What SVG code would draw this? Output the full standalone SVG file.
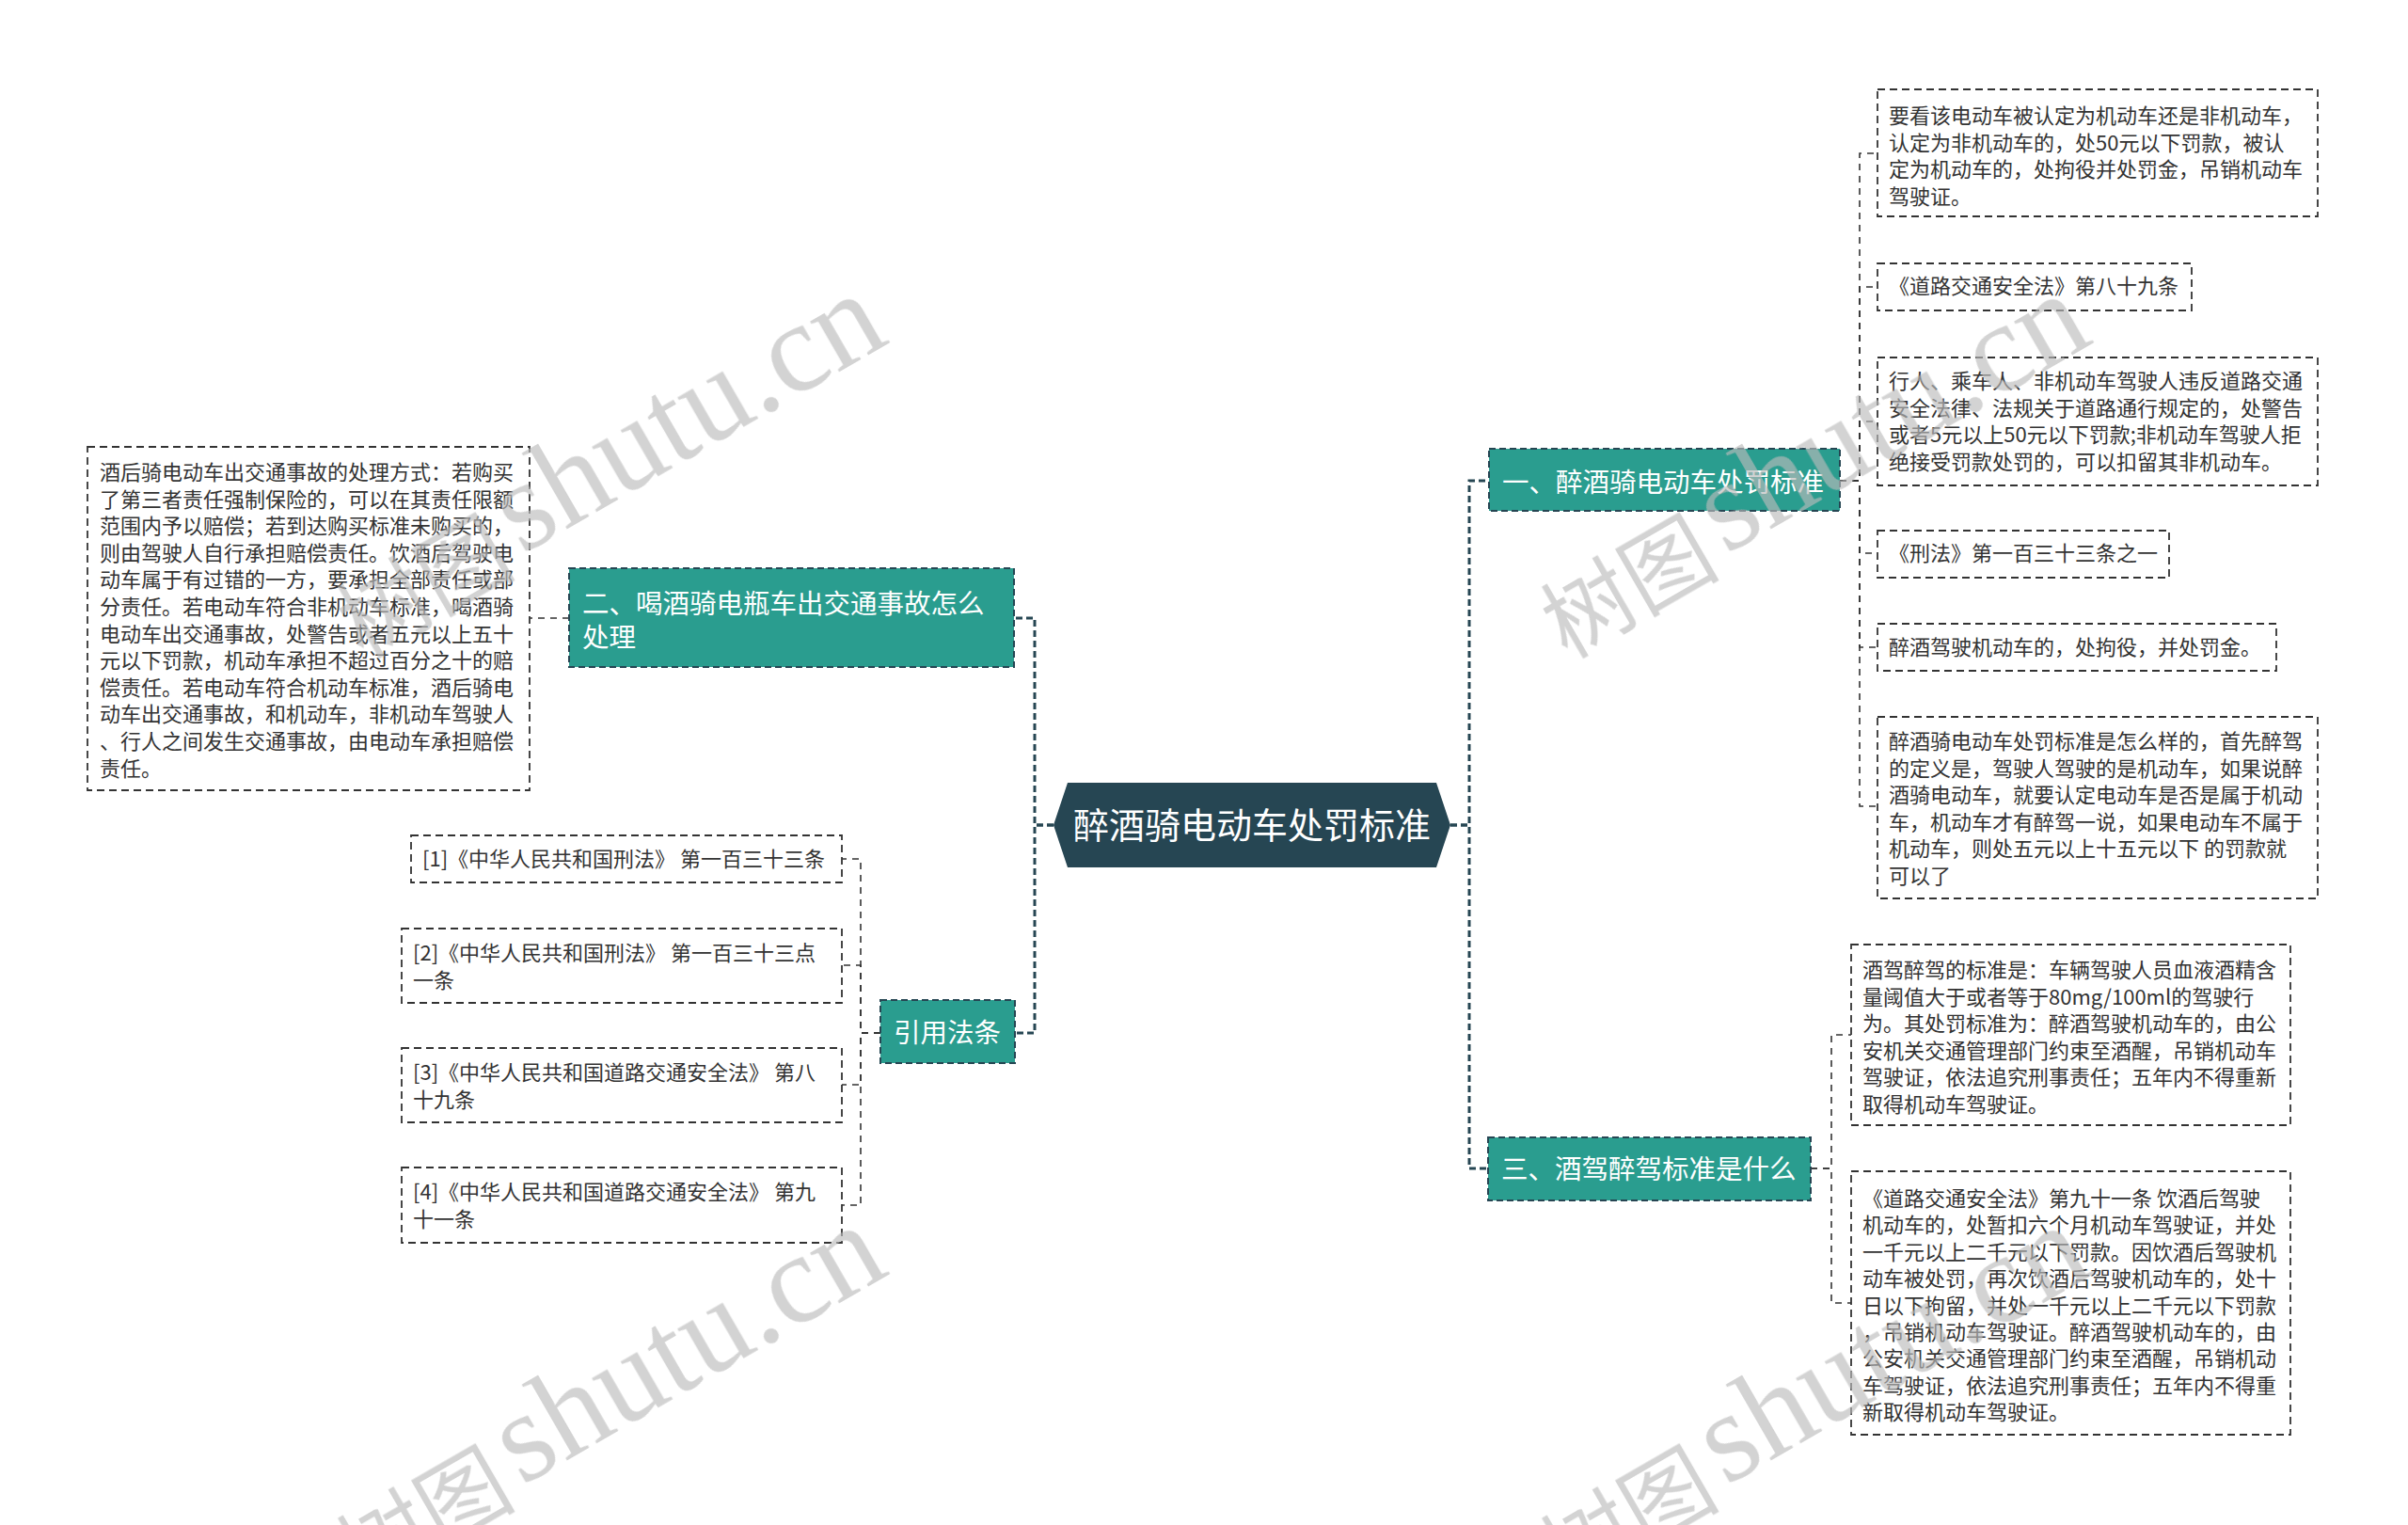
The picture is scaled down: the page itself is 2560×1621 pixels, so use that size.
<svg xmlns="http://www.w3.org/2000/svg" width="2560" height="1621" viewBox="0 0 2560 1621">
<style>
.cjk{font-family:"Noto Sans CJK SC","Noto Sans",sans-serif}
.bt{font-family:"Noto Sans CJK SC","Noto Sans",sans-serif;font-size:28.5px;fill:#ffffff}
.ct{font-family:"Noto Sans CJK SC","Noto Sans",sans-serif;font-size:22px;fill:#333333}
.branch{fill:#2a9d8f;stroke:#264653;stroke-width:2;stroke-dasharray:7 4}
.leaf{fill:#ffffff;stroke:#333333;stroke-width:1.8;stroke-dasharray:8 5}
.trunk{fill:none;stroke:#264653;stroke-width:3;stroke-dasharray:7 4}
.twig{fill:none;stroke:#333333;stroke-width:1.6;stroke-dasharray:7 6}
.wm{fill:#bbbbbb;opacity:0.65}
</style>
<rect x="0" y="0" width="2560" height="1621" fill="#ffffff"/>

<g id="connectors">
  <path class="trunk" d="M1120 877 H1100 V657 H1079"/>
  <path class="trunk" d="M1120 877 H1100 V1098 H1079"/>
  <path class="trunk" d="M1542 877 H1562 V511 H1583"/>
  <path class="trunk" d="M1542 877 H1562 V1242 H1582"/>
  <path class="twig" d="M605 657 H563"/>
  <path class="twig" d="M936 1098 H915 V913 H895"/>
  <path class="twig" d="M936 1098 H915 V1026 H895"/>
  <path class="twig" d="M936 1098 H915 V1153 H895"/>
  <path class="twig" d="M936 1098 H915 V1281 H895"/>
  <path class="twig" d="M1956 511 H1977 V163 H1996"/>
  <path class="twig" d="M1956 511 H1977 V305 H1996"/>
  <path class="twig" d="M1956 511 H1977 V448 H1996"/>
  <path class="twig" d="M1956 511 H1977 V588 H1996"/>
  <path class="twig" d="M1956 511 H1977 V688 H1996"/>
  <path class="twig" d="M1956 511 H1977 V857 H1996"/>
  <path class="twig" d="M1925 1242 H1947 V1100 H1968"/>
  <path class="twig" d="M1925 1242 H1947 V1385 H1968"/>
</g>

<g id="root">
  <polygon points="1120,877 1135,832 1527,832 1542,877 1527,922 1135,922" fill="#264653"/>
  <text class="cjk" x="1331" y="891" font-size="38" fill="#ffffff" text-anchor="middle">醉酒骑电动车处罚标准</text>
</g>

<g id="branch2">
  <rect class="branch" x="605" y="604" width="473" height="105"/>
  <text class="bt" x="619" y="652">二、喝酒骑电瓶车出交通事故怎么</text>
  <text class="bt" x="619" y="688">处理</text>
</g>
<g id="branch2-text">
  <rect class="leaf" x="93" y="475" width="470" height="365"/>
  <text class="ct" x="106" y="510">酒后骑电动车出交通事故的处理方式：若购买</text>
  <text class="ct" x="106" y="538.6">了第三者责任强制保险的，可以在其责任限额</text>
  <text class="ct" x="106" y="567.2">范围内予以赔偿；若到达购买标准未购买的，</text>
  <text class="ct" x="106" y="595.8">则由驾驶人自行承担赔偿责任。饮酒后驾驶电</text>
  <text class="ct" x="106" y="624.4">动车属于有过错的一方，要承担全部责任或部</text>
  <text class="ct" x="106" y="653">分责任。若电动车符合非机动车标准，喝酒骑</text>
  <text class="ct" x="106" y="681.6">电动车出交通事故，处警告或者五元以上五十</text>
  <text class="ct" x="106" y="710.2">元以下罚款，机动车承担不超过百分之十的赔</text>
  <text class="ct" x="106" y="738.8">偿责任。若电动车符合机动车标准，酒后骑电</text>
  <text class="ct" x="106" y="767.4">动车出交通事故，和机动车，非机动车驾驶人</text>
  <text class="ct" x="106" y="796">、行人之间发生交通事故，由电动车承担赔偿</text>
  <text class="ct" x="106" y="824.6">责任。</text>
</g>

<g id="refs">
  <rect class="branch" x="936" y="1063" width="143" height="67"/>
  <text class="bt" x="950" y="1108">引用法条</text>
</g>
<g id="ref1">
  <rect class="leaf" x="437" y="888" width="458" height="50"/>
  <text class="ct" x="449" y="921">[1]《中华人民共和国刑法》 第一百三十三条</text>
</g>
<g id="ref2">
  <rect class="leaf" x="427" y="987" width="468" height="79"/>
  <text class="ct" x="439" y="1021">[2]《中华人民共和国刑法》 第一百三十三点</text>
  <text class="ct" x="439" y="1050">一条</text>
</g>
<g id="ref3">
  <rect class="leaf" x="427" y="1114" width="468" height="79"/>
  <text class="ct" x="439" y="1148">[3]《中华人民共和国道路交通安全法》 第八</text>
  <text class="ct" x="439" y="1177">十九条</text>
</g>
<g id="ref4">
  <rect class="leaf" x="427" y="1241" width="468" height="80"/>
  <text class="ct" x="439" y="1275">[4]《中华人民共和国道路交通安全法》 第九</text>
  <text class="ct" x="439" y="1304">十一条</text>
</g>

<g id="branch1">
  <rect class="branch" x="1583" y="477" width="373" height="66"/>
  <text class="bt" x="1597" y="523">一、醉酒骑电动车处罚标准</text>
</g>
<g id="b1c1">
  <rect class="leaf" x="1996" y="95" width="468" height="135"/>
  <text class="ct" x="2008" y="131">要看该电动车被认定为机动车还是非机动车，</text>
  <text class="ct" x="2008" y="159.5">认定为非机动车的，处50元以下罚款，被认</text>
  <text class="ct" x="2008" y="188">定为机动车的，处拘役并处罚金，吊销机动车</text>
  <text class="ct" x="2008" y="216.5">驾驶证。</text>
</g>
<g id="b1c2">
  <rect class="leaf" x="1996" y="280" width="334" height="50"/>
  <text class="ct" x="2008" y="312">《道路交通安全法》第八十九条</text>
</g>
<g id="b1c3">
  <rect class="leaf" x="1996" y="380" width="468" height="136"/>
  <text class="ct" x="2008" y="413">行人、乘车人、非机动车驾驶人违反道路交通</text>
  <text class="ct" x="2008" y="441.5">安全法律、法规关于道路通行规定的，处警告</text>
  <text class="ct" x="2008" y="470">或者5元以上50元以下罚款;非机动车驾驶人拒</text>
  <text class="ct" x="2008" y="498.5">绝接受罚款处罚的，可以扣留其非机动车。</text>
</g>
<g id="b1c4">
  <rect class="leaf" x="1996" y="564" width="310" height="50"/>
  <text class="ct" x="2008" y="596">《刑法》第一百三十三条之一</text>
</g>
<g id="b1c5">
  <rect class="leaf" x="1996" y="663" width="424" height="50"/>
  <text class="ct" x="2008" y="696">醉酒驾驶机动车的，处拘役，并处罚金。</text>
</g>
<g id="b1c6">
  <rect class="leaf" x="1996" y="762" width="468" height="193"/>
  <text class="ct" x="2008" y="796">醉酒骑电动车处罚标准是怎么样的，首先醉驾</text>
  <text class="ct" x="2008" y="824.5">的定义是，驾驶人驾驶的是机动车，如果说醉</text>
  <text class="ct" x="2008" y="853">酒骑电动车，就要认定电动车是否是属于机动</text>
  <text class="ct" x="2008" y="881.5">车，机动车才有醉驾一说，如果电动车不属于</text>
  <text class="ct" x="2008" y="910">机动车，则处五元以上十五元以下 的罚款就</text>
  <text class="ct" x="2008" y="938.5">可以了</text>
</g>

<g id="branch3">
  <rect class="branch" x="1582" y="1209" width="343" height="67"/>
  <text class="bt" x="1596" y="1253">三、酒驾醉驾标准是什么</text>
</g>
<g id="b3c1">
  <rect class="leaf" x="1968" y="1004" width="467" height="192"/>
  <text class="ct" x="1980" y="1039">酒驾醉驾的标准是：车辆驾驶人员血液酒精含</text>
  <text class="ct" x="1980" y="1067.5">量阈值大于或者等于80mg/100ml的驾驶行</text>
  <text class="ct" x="1980" y="1096">为。其处罚标准为：醉酒驾驶机动车的，由公</text>
  <text class="ct" x="1980" y="1124.5">安机关交通管理部门约束至酒醒，吊销机动车</text>
  <text class="ct" x="1980" y="1153">驾驶证，依法追究刑事责任；五年内不得重新</text>
  <text class="ct" x="1980" y="1181.5">取得机动车驾驶证。</text>
</g>
<g id="b3c2">
  <rect class="leaf" x="1968" y="1245" width="467" height="280"/>
  <text class="ct" x="1980" y="1282">《道路交通安全法》第九十一条 饮酒后驾驶</text>
  <text class="ct" x="1980" y="1310.4">机动车的，处暂扣六个月机动车驾驶证，并处</text>
  <text class="ct" x="1980" y="1338.8">一千元以上二千元以下罚款。因饮酒后驾驶机</text>
  <text class="ct" x="1980" y="1367.2">动车被处罚，再次饮酒后驾驶机动车的，处十</text>
  <text class="ct" x="1980" y="1395.6">日以下拘留，并处一千元以上二千元以下罚款</text>
  <text class="ct" x="1980" y="1424">，吊销机动车驾驶证。醉酒驾驶机动车的，由</text>
  <text class="ct" x="1980" y="1452.4">公安机关交通管理部门约束至酒醒，吊销机动</text>
  <text class="ct" x="1980" y="1480.8">车驾驶证，依法追究刑事责任；五年内不得重</text>
  <text class="ct" x="1980" y="1509.2">新取得机动车驾驶证。</text>
</g>

<g id="watermark" class="wm">
  <g transform="translate(555,590) rotate(-30)">
    <text x="-12" y="12" font-family="Noto Sans CJK SC,sans-serif" font-size="95" text-anchor="end">树图</text>
    <text x="0" y="0" font-family="Liberation Serif,serif" font-size="135">shutu.cn</text>
  </g>
  <g transform="translate(1835,590) rotate(-30)">
    <text x="-12" y="12" font-family="Noto Sans CJK SC,sans-serif" font-size="95" text-anchor="end">树图</text>
    <text x="0" y="0" font-family="Liberation Serif,serif" font-size="135">shutu.cn</text>
  </g>
  <g transform="translate(555,1580) rotate(-30)">
    <text x="-12" y="12" font-family="Noto Sans CJK SC,sans-serif" font-size="95" text-anchor="end">树图</text>
    <text x="0" y="0" font-family="Liberation Serif,serif" font-size="135">shutu.cn</text>
  </g>
  <g transform="translate(1835,1580) rotate(-30)">
    <text x="-12" y="12" font-family="Noto Sans CJK SC,sans-serif" font-size="95" text-anchor="end">树图</text>
    <text x="0" y="0" font-family="Liberation Serif,serif" font-size="135">shutu.cn</text>
  </g>
</g>
</svg>
